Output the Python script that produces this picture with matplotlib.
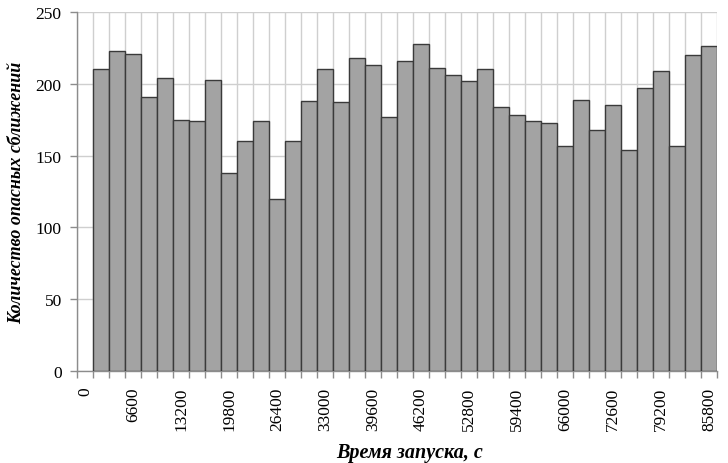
import matplotlib.pyplot as plt
from matplotlib.ticker import FixedLocator, NullFormatter

plt.rcParams['font.family'] = ['Liberation Serif', 'DejaVu Serif']

# Launch time bins, s (one category per 2200 s)
launch_times = [0, 2200, 4400, 6600, 8800, 11000, 13200, 15400, 17600, 19800,
                22000, 24200, 26400, 28600, 30800, 33000, 35200, 37400, 39600, 41800,
                44000, 46200, 48400, 50600, 52800, 55000, 57200, 59400, 61600, 63800,
                66000, 68200, 70400, 72600, 74800, 77000, 79200, 81400, 83600, 85800]

# Number of dangerous approaches for bins 2200 ... 85800 (the 0 bin is empty)
approach_counts = [210, 223, 221, 191, 204, 175, 174, 203, 138, 160,
                   174, 120, 160, 188, 210, 187, 218, 213, 177, 216,
                   228, 211, 206, 202, 210, 184, 178, 174, 173, 157,
                   189, 168, 185, 154, 197, 209, 157, 220, 226]

tick_labels = ['0', '6600', '13200', '19800', '26400', '33000', '39600', '46200',
               '52800', '59400', '66000', '72600', '79200', '85800']

fig = plt.figure(figsize=(7.28, 4.64), dpi=100)
ax = fig.add_axes([0.1058, 0.198, 0.879, 0.774])

n_cat = len(launch_times)
positions = list(range(1, n_cat))
ax.bar(positions, approach_counts, width=1.0, align='edge',
       color='#a3a3a3', edgecolor='#3a3a3a', linewidth=1.0, zorder=3)

ax.set_xlim(0, n_cat)
ax.set_ylim(0, 250)

# labels sit at the middle of every third category
label_pos = [launch_times.index(int(t)) + 0.5 for t in tick_labels]
ax.xaxis.set_major_locator(FixedLocator(label_pos))
ax.set_xticklabels(tick_labels, rotation=90, fontsize=12.5)
ax.tick_params(axis='x', which='major', length=0, pad=11)

# category boundaries: tick marks and vertical grid
ax.xaxis.set_minor_locator(FixedLocator(range(0, n_cat + 1)))
ax.xaxis.set_minor_formatter(NullFormatter())
ax.tick_params(axis='x', which='minor', length=5, width=1, color='#8c8c8c')
ax.grid(True, axis='x', which='minor', color='#cfcfcf', linewidth=1, zorder=0)

ax.set_yticks([0, 50, 100, 150, 200, 250])
ax.tick_params(axis='y', length=5, width=1, color='#8c8c8c', labelsize=12.5, pad=6)
ax.grid(True, axis='y', which='major', color='#cfcfcf', linewidth=1, zorder=0)

for side in ['top', 'right']:
    ax.spines[side].set_visible(False)
for side in ['left', 'bottom']:
    ax.spines[side].set_color('#8c8c8c')
    ax.spines[side].set_linewidth(1)

ax.set_xlabel('Время запуска, с', fontsize=14.5, fontweight='bold', fontstyle='italic')
ax.xaxis.set_label_coords(0.52, -0.196)
ax.set_ylabel('Количество опасных сближений', fontsize=13, fontweight='bold',
              fontstyle='italic')
ax.yaxis.set_label_coords(-0.081, 0.5)

fig.savefig('out.png', dpi=100)
